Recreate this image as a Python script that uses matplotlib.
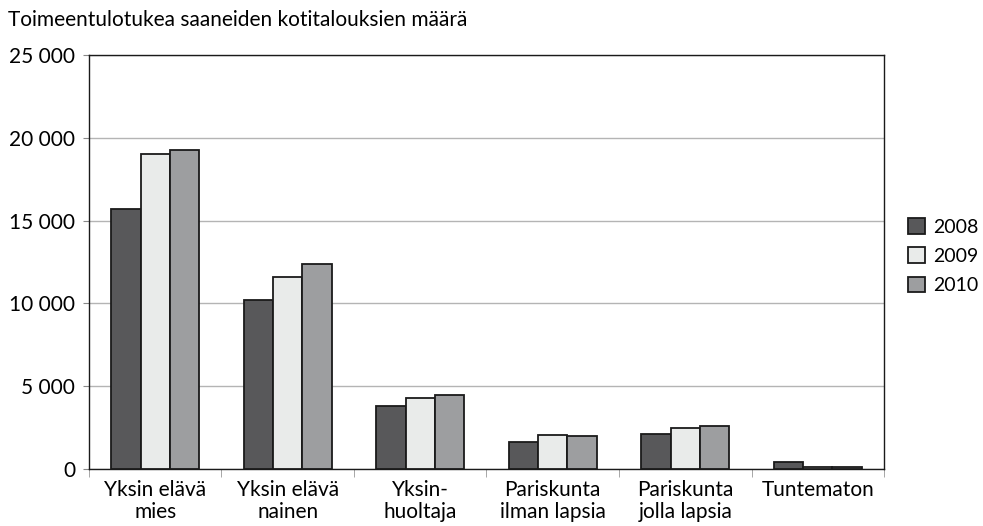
import numpy as np
import matplotlib.pyplot as plt
from matplotlib.ticker import FuncFormatter

categories = ["Yksin elävä\nmies", "Yksin elävä\nnainen", "Yksin-\nhuoltaja",
              "Pariskunta\nilman lapsia", "Pariskunta\njolla lapsia", "Tuntematon"]
years = ["2008", "2009", "2010"]
v2008 = [15700, 10200, 3800, 1630, 2110, 420]
v2009 = [19050, 11620, 4290, 2050, 2500, 90]
v2010 = [19290, 12350, 4440, 2020, 2570, 90]
colors = ["#58585a", "#e9ebea", "#9d9ea0"]

plt.rcParams['font.family'] = ['Lato', 'DejaVu Sans']

fig = plt.figure(figsize=(9.83, 5.26), dpi=100)
ax = fig.add_axes([0.0905, 0.1084, 0.8088, 0.787])

x = np.arange(len(categories))
w = 0.222
for i, vals in enumerate([v2008, v2009, v2010]):
    ax.bar(x + (i - 1) * w, vals, w, color=colors[i], edgecolor="#1a1a1a",
           linewidth=1.3, label=years[i], zorder=3)

ax.set_xlim(-0.5, len(categories) - 0.5)
ax.set_ylim(0, 25000)
ax.set_yticks(range(0, 25001, 5000))
ax.yaxis.set_major_formatter(FuncFormatter(lambda v, p: f"{int(v):,}".replace(",", " ")))
ax.yaxis.grid(True, color="#b4b4b4", linewidth=1, zorder=0)
ax.tick_params(axis="y", length=4, color="#888888", labelsize=15, pad=6)

ax.set_xticks(x)
ax.set_xticklabels(categories, fontsize=15, linespacing=1.15)
ax.tick_params(axis="x", length=0, pad=8)
ax.set_xticks(np.arange(-0.5, len(categories)), minor=True)
ax.tick_params(axis="x", which="minor", length=6, color="#999999")

for s in ax.spines.values():
    s.set_color("#1a1a1a")
    s.set_linewidth(1)

ax.legend(loc="center left", bbox_to_anchor=(0.9237, 0.513),
          bbox_transform=fig.transFigure, frameon=False, borderpad=0,
          borderaxespad=0, fontsize=14, handlelength=0.85, handleheight=0.85,
          handletextpad=0.45, labelspacing=0.6)

fig.text(0.008, 0.95, "Toimeentulotukea saaneiden kotitalouksien määrä", fontsize=15)

fig.savefig("out.png", dpi=100)
